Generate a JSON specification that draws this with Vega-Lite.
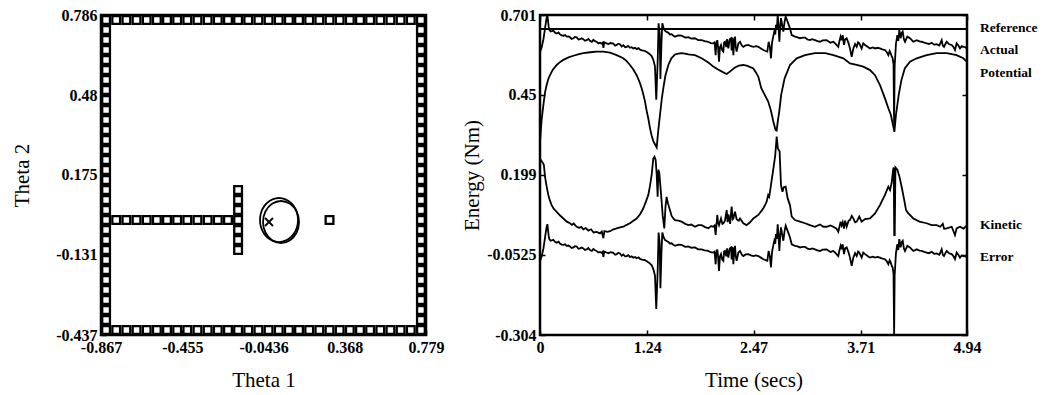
{
"$schema": "https://vega.github.io/schema/vega-lite/v6.json",
"padding": {"left": 10, "top": 5, "right": 0, "bottom": 0},
"background": "white",
"config": {
 "view": {"stroke": "black", "strokeWidth": 2.5},
 "axis": {"domain": false, "grid": false, "tickColor": "black", "tickSize": -5, "tickWidth": 1.5, "labelFont": "Liberation Serif", "labelFontWeight": "bold", "labelFontSize": 16, "labelColor": "black", "labelPadding": 9, "labelFlush": false, "labelOverlap": false, "titleFont": "Liberation Serif", "titleFontSize": 21, "titleFontWeight": "normal", "titleColor": "black"},
 "concat": {"spacing": 14}
},
"datasets": {
 "cells": [
  {"t1":-0.8413,"t2":0.7669},{"t1":-0.7899,"t2":0.7669},{"t1":-0.7384,"t2":0.7669},{"t1":-0.6870,"t2":0.7669},{"t1":-0.6356,"t2":0.7669},{"t1":-0.5841,"t2":0.7669},{"t1":-0.5327,"t2":0.7669},{"t1":-0.4812,"t2":0.7669},{"t1":-0.4298,"t2":0.7669},{"t1":-0.3784,"t2":0.7669},{"t1":-0.3269,"t2":0.7669},{"t1":-0.2755,"t2":0.7669},{"t1":-0.2240,"t2":0.7669},{"t1":-0.1726,"t2":0.7669},{"t1":-0.1212,"t2":0.7669},{"t1":-0.0697,"t2":0.7669},{"t1":-0.0183,"t2":0.7669},{"t1":0.0332,"t2":0.7669},{"t1":0.0846,"t2":0.7669},{"t1":0.1360,"t2":0.7669},{"t1":0.1875,"t2":0.7669},{"t1":0.2389,"t2":0.7669},{"t1":0.2904,"t2":0.7669},{"t1":0.3418,"t2":0.7669},{"t1":0.3932,"t2":0.7669},{"t1":0.4447,"t2":0.7669},{"t1":0.4961,"t2":0.7669},{"t1":0.5476,"t2":0.7669},{"t1":0.5990,"t2":0.7669},{"t1":0.6504,"t2":0.7669},{"t1":0.7019,"t2":0.7669},{"t1":0.7533,"t2":0.7669},
  {"t1":-0.8413,"t2":-0.4179},{"t1":-0.7899,"t2":-0.4179},{"t1":-0.7384,"t2":-0.4179},{"t1":-0.6870,"t2":-0.4179},{"t1":-0.6356,"t2":-0.4179},{"t1":-0.5841,"t2":-0.4179},{"t1":-0.5327,"t2":-0.4179},{"t1":-0.4812,"t2":-0.4179},{"t1":-0.4298,"t2":-0.4179},{"t1":-0.3784,"t2":-0.4179},{"t1":-0.3269,"t2":-0.4179},{"t1":-0.2755,"t2":-0.4179},{"t1":-0.2240,"t2":-0.4179},{"t1":-0.1726,"t2":-0.4179},{"t1":-0.1212,"t2":-0.4179},{"t1":-0.0697,"t2":-0.4179},{"t1":-0.0183,"t2":-0.4179},{"t1":0.0332,"t2":-0.4179},{"t1":0.0846,"t2":-0.4179},{"t1":0.1360,"t2":-0.4179},{"t1":0.1875,"t2":-0.4179},{"t1":0.2389,"t2":-0.4179},{"t1":0.2904,"t2":-0.4179},{"t1":0.3418,"t2":-0.4179},{"t1":0.3932,"t2":-0.4179},{"t1":0.4447,"t2":-0.4179},{"t1":0.4961,"t2":-0.4179},{"t1":0.5476,"t2":-0.4179},{"t1":0.5990,"t2":-0.4179},{"t1":0.6504,"t2":-0.4179},{"t1":0.7019,"t2":-0.4179},{"t1":0.7533,"t2":-0.4179},
  {"t1":-0.8413,"t2":0.7287},{"t1":-0.8413,"t2":0.6905},{"t1":-0.8413,"t2":0.6522},{"t1":-0.8413,"t2":0.6140},{"t1":-0.8413,"t2":0.5758},{"t1":-0.8413,"t2":0.5376},{"t1":-0.8413,"t2":0.4994},{"t1":-0.8413,"t2":0.4611},{"t1":-0.8413,"t2":0.4229},{"t1":-0.8413,"t2":0.3847},{"t1":-0.8413,"t2":0.3465},{"t1":-0.8413,"t2":0.3083},{"t1":-0.8413,"t2":0.2700},{"t1":-0.8413,"t2":0.2318},{"t1":-0.8413,"t2":0.1936},{"t1":-0.8413,"t2":0.1554},{"t1":-0.8413,"t2":0.1172},{"t1":-0.8413,"t2":0.0789},{"t1":-0.8413,"t2":0.0407},{"t1":-0.8413,"t2":0.0025},{"t1":-0.8413,"t2":-0.0357},{"t1":-0.8413,"t2":-0.0739},{"t1":-0.8413,"t2":-0.1121},{"t1":-0.8413,"t2":-0.1504},{"t1":-0.8413,"t2":-0.1886},{"t1":-0.8413,"t2":-0.2268},{"t1":-0.8413,"t2":-0.2650},{"t1":-0.8413,"t2":-0.3032},{"t1":-0.8413,"t2":-0.3415},{"t1":-0.8413,"t2":-0.3797},
  {"t1":0.7533,"t2":0.7287},{"t1":0.7533,"t2":0.6905},{"t1":0.7533,"t2":0.6522},{"t1":0.7533,"t2":0.6140},{"t1":0.7533,"t2":0.5758},{"t1":0.7533,"t2":0.5376},{"t1":0.7533,"t2":0.4994},{"t1":0.7533,"t2":0.4611},{"t1":0.7533,"t2":0.4229},{"t1":0.7533,"t2":0.3847},{"t1":0.7533,"t2":0.3465},{"t1":0.7533,"t2":0.3083},{"t1":0.7533,"t2":0.2700},{"t1":0.7533,"t2":0.2318},{"t1":0.7533,"t2":0.1936},{"t1":0.7533,"t2":0.1554},{"t1":0.7533,"t2":0.1172},{"t1":0.7533,"t2":0.0789},{"t1":0.7533,"t2":0.0407},{"t1":0.7533,"t2":0.0025},{"t1":0.7533,"t2":-0.0357},{"t1":0.7533,"t2":-0.0739},{"t1":0.7533,"t2":-0.1121},{"t1":0.7533,"t2":-0.1504},{"t1":0.7533,"t2":-0.1886},{"t1":0.7533,"t2":-0.2268},{"t1":0.7533,"t2":-0.2650},{"t1":0.7533,"t2":-0.3032},{"t1":0.7533,"t2":-0.3415},{"t1":0.7533,"t2":-0.3797},
  {"t1":-0.7899,"t2":0.0025},{"t1":-0.7384,"t2":0.0025},{"t1":-0.6870,"t2":0.0025},{"t1":-0.6356,"t2":0.0025},{"t1":-0.5841,"t2":0.0025},{"t1":-0.5327,"t2":0.0025},{"t1":-0.4812,"t2":0.0025},{"t1":-0.4298,"t2":0.0025},{"t1":-0.3784,"t2":0.0025},{"t1":-0.3269,"t2":0.0025},{"t1":-0.2755,"t2":0.0025},{"t1":-0.2240,"t2":0.0025},
  {"t1":-0.1726,"t2":0.1172},{"t1":-0.1726,"t2":0.0789},{"t1":-0.1726,"t2":0.0407},{"t1":-0.1726,"t2":0.0025},{"t1":-0.1726,"t2":-0.0357},{"t1":-0.1726,"t2":-0.0739},{"t1":-0.1726,"t2":-0.1121},
  {"t1":0.2904,"t2":0.0025}
 ],
 "path": [
  {"k":1,"i":0,"t1":0.1308,"t2":0.0025},{"k":1,"i":1,"t1":0.1252,"t2":0.0312},{"k":1,"i":2,"t1":0.1085,"t2":0.0564},{"k":1,"i":3,"t1":0.0827,"t2":0.0755},{"k":1,"i":4,"t1":0.0512,"t2":0.0854},{"k":1,"i":5,"t1":0.0178,"t2":0.0854},{"k":1,"i":6,"t1":-0.0136,"t2":0.0755},{"k":1,"i":7,"t1":-0.0394,"t2":0.0564},{"k":1,"i":8,"t1":-0.0561,"t2":0.0312},{"k":1,"i":9,"t1":-0.0617,"t2":0.0025},{"k":1,"i":10,"t1":-0.0561,"t2":-0.0262},{"k":1,"i":11,"t1":-0.0394,"t2":-0.0514},{"k":1,"i":12,"t1":-0.0136,"t2":-0.0705},{"k":1,"i":13,"t1":0.0178,"t2":-0.0804},{"k":1,"i":14,"t1":0.0512,"t2":-0.0804},{"k":1,"i":15,"t1":0.0827,"t2":-0.0705},{"k":1,"i":16,"t1":0.1085,"t2":-0.0514},{"k":1,"i":17,"t1":0.1252,"t2":-0.0262},
  {"k":2,"i":0,"t1":0.1359,"t2":-0.0051},{"k":2,"i":1,"t1":0.1237,"t2":0.0350},{"k":2,"i":2,"t1":0.0903,"t2":0.0644},{"k":2,"i":3,"t1":0.0447,"t2":0.0752},{"k":2,"i":4,"t1":-0.0009,"t2":0.0644},{"k":2,"i":5,"t1":-0.0343,"t2":0.0350},{"k":2,"i":6,"t1":-0.0465,"t2":-0.0051},{"k":2,"i":7,"t1":-0.0343,"t2":-0.0453},{"k":2,"i":8,"t1":-0.0009,"t2":-0.0746},{"k":2,"i":9,"t1":0.0447,"t2":-0.0854},{"k":2,"i":10,"t1":0.0903,"t2":-0.0746},{"k":2,"i":11,"t1":0.1237,"t2":-0.0453}
 ],
 "goal": [{"t1":-0.0161,"t2":-0.0051}],
 "labels": [
  {"t":4.94,"e":0.659,"label":"Reference"},{"t":4.94,"e":0.591,"label":"Actual"},{"t":4.94,"e":0.519,"label":"Potential"},{"t":4.94,"e":0.041,"label":"Kinetic"},{"t":4.94,"e":-0.059,"label":"Error"}
 ],
 "energy": [
  {"s":"R","t":0,"e":0.657},{"s":"R","t":4.94,"e":0.657},
  {"s":"A","t":0.000,"e":0.585},{"s":"A","t":0.020,"e":0.600},{"s":"A","t":0.040,"e":0.625},{"s":"A","t":0.058,"e":0.659},{"s":"A","t":0.075,"e":0.690},{"s":"A","t":0.085,"e":0.701},{"s":"A","t":0.100,"e":0.665},{"s":"A","t":0.108,"e":0.654},{"s":"A","t":0.123,"e":0.649},{"s":"A","t":0.154,"e":0.652},{"s":"A","t":0.175,"e":0.645},{"s":"A","t":0.193,"e":0.643},{"s":"A","t":0.215,"e":0.646},{"s":"A","t":0.231,"e":0.640},{"s":"A","t":0.250,"e":0.637},{"s":"A","t":0.270,"e":0.636},{"s":"A","t":0.290,"e":0.638},{"s":"A","t":0.309,"e":0.633},{"s":"A","t":0.330,"e":0.634},{"s":"A","t":0.347,"e":0.631},{"s":"A","t":0.365,"e":0.626},{"s":"A","t":0.386,"e":0.628},{"s":"A","t":0.405,"e":0.632},{"s":"A","t":0.424,"e":0.631},{"s":"A","t":0.445,"e":0.624},{"s":"A","t":0.463,"e":0.625},{"s":"A","t":0.482,"e":0.628},{"s":"A","t":0.501,"e":0.625},{"s":"A","t":0.520,"e":0.620},{"s":"A","t":0.540,"e":0.622},{"s":"A","t":0.560,"e":0.626},{"s":"A","t":0.578,"e":0.620},{"s":"A","t":0.600,"e":0.617},{"s":"A","t":0.617,"e":0.623},{"s":"A","t":0.636,"e":0.619},{"s":"A","t":0.655,"e":0.617},{"s":"A","t":0.675,"e":0.612},{"s":"A","t":0.694,"e":0.614},{"s":"A","t":0.715,"e":0.611},{"s":"A","t":0.725,"e":0.614},{"s":"A","t":0.733,"e":0.598},{"s":"A","t":0.744,"e":0.615},{"s":"A","t":0.770,"e":0.612},{"s":"A","t":0.791,"e":0.610},{"s":"A","t":0.815,"e":0.613},{"s":"A","t":0.848,"e":0.611},{"s":"A","t":0.870,"e":0.605},{"s":"A","t":0.887,"e":0.607},{"s":"A","t":0.905,"e":0.611},{"s":"A","t":0.925,"e":0.609},{"s":"A","t":0.945,"e":0.602},{"s":"A","t":0.964,"e":0.606},{"s":"A","t":0.985,"e":0.600},{"s":"A","t":1.003,"e":0.601},{"s":"A","t":1.020,"e":0.604},{"s":"A","t":1.041,"e":0.598},{"s":"A","t":1.060,"e":0.600},{"s":"A","t":1.080,"e":0.596},{"s":"A","t":1.100,"e":0.598},{"s":"A","t":1.118,"e":0.594},{"s":"A","t":1.140,"e":0.597},{"s":"A","t":1.157,"e":0.592},{"s":"A","t":1.180,"e":0.590},{"s":"A","t":1.215,"e":0.588},{"s":"A","t":1.240,"e":0.584},{"s":"A","t":1.270,"e":0.578},{"s":"A","t":1.292,"e":0.572},{"s":"A","t":1.311,"e":0.560},{"s":"A","t":1.330,"e":0.540},{"s":"A","t":1.345,"e":0.435},{"s":"A","t":1.362,"e":0.560},{"s":"A","t":1.372,"e":0.675},{"s":"A","t":1.385,"e":0.640},{"s":"A","t":1.393,"e":0.500},{"s":"A","t":1.405,"e":0.610},{"s":"A","t":1.415,"e":0.675},{"s":"A","t":1.430,"e":0.660},{"s":"A","t":1.445,"e":0.652},{"s":"A","t":1.465,"e":0.648},{"s":"A","t":1.485,"e":0.645},{"s":"A","t":1.504,"e":0.640},{"s":"A","t":1.523,"e":0.641},{"s":"A","t":1.543,"e":0.636},{"s":"A","t":1.562,"e":0.633},{"s":"A","t":1.600,"e":0.637},{"s":"A","t":1.639,"e":0.636},{"s":"A","t":1.680,"e":0.630},{"s":"A","t":1.716,"e":0.631},{"s":"A","t":1.750,"e":0.627},{"s":"A","t":1.793,"e":0.628},{"s":"A","t":1.830,"e":0.622},{"s":"A","t":1.870,"e":0.622},{"s":"A","t":1.905,"e":0.619},{"s":"A","t":1.947,"e":0.617},{"s":"A","t":1.975,"e":0.613},{"s":"A","t":2.005,"e":0.612},{"s":"A","t":2.020,"e":0.615},{"s":"A","t":2.032,"e":0.575},{"s":"A","t":2.040,"e":0.610},{"s":"A","t":2.051,"e":0.622},{"s":"A","t":2.060,"e":0.600},{"s":"A","t":2.071,"e":0.554},{"s":"A","t":2.082,"e":0.600},{"s":"A","t":2.094,"e":0.607},{"s":"A","t":2.108,"e":0.590},{"s":"A","t":2.121,"e":0.586},{"s":"A","t":2.130,"e":0.615},{"s":"A","t":2.140,"e":0.617},{"s":"A","t":2.155,"e":0.600},{"s":"A","t":2.165,"e":0.625},{"s":"A","t":2.179,"e":0.596},{"s":"A","t":2.195,"e":0.625},{"s":"A","t":2.210,"e":0.628},{"s":"A","t":2.217,"e":0.590},{"s":"A","t":2.227,"e":0.630},{"s":"A","t":2.237,"e":0.575},{"s":"A","t":2.247,"e":0.620},{"s":"A","t":2.256,"e":0.633},{"s":"A","t":2.265,"e":0.600},{"s":"A","t":2.275,"e":0.586},{"s":"A","t":2.295,"e":0.612},{"s":"A","t":2.314,"e":0.617},{"s":"A","t":2.335,"e":0.605},{"s":"A","t":2.352,"e":0.601},{"s":"A","t":2.380,"e":0.606},{"s":"A","t":2.410,"e":0.607},{"s":"A","t":2.440,"e":0.603},{"s":"A","t":2.468,"e":0.601},{"s":"A","t":2.500,"e":0.603},{"s":"A","t":2.526,"e":0.601},{"s":"A","t":2.555,"e":0.596},{"s":"A","t":2.584,"e":0.591},{"s":"A","t":2.610,"e":0.588},{"s":"A","t":2.630,"e":0.586},{"s":"A","t":2.645,"e":0.617},{"s":"A","t":2.660,"e":0.600},{"s":"A","t":2.672,"e":0.565},{"s":"A","t":2.685,"e":0.615},{"s":"A","t":2.698,"e":0.633},{"s":"A","t":2.711,"e":0.649},{"s":"A","t":2.722,"e":0.640},{"s":"A","t":2.730,"e":0.670},{"s":"A","t":2.740,"e":0.655},{"s":"A","t":2.750,"e":0.701},{"s":"A","t":2.760,"e":0.665},{"s":"A","t":2.769,"e":0.617},{"s":"A","t":2.778,"e":0.660},{"s":"A","t":2.788,"e":0.691},{"s":"A","t":2.800,"e":0.672},{"s":"A","t":2.815,"e":0.649},{"s":"A","t":2.830,"e":0.680},{"s":"A","t":2.842,"e":0.696},{"s":"A","t":2.865,"e":0.680},{"s":"A","t":2.892,"e":0.659},{"s":"A","t":2.912,"e":0.638},{"s":"A","t":2.950,"e":0.633},{"s":"A","t":2.980,"e":0.631},{"s":"A","t":3.008,"e":0.628},{"s":"A","t":3.040,"e":0.630},{"s":"A","t":3.066,"e":0.630},{"s":"A","t":3.095,"e":0.624},{"s":"A","t":3.123,"e":0.622},{"s":"A","t":3.150,"e":0.625},{"s":"A","t":3.181,"e":0.622},{"s":"A","t":3.210,"e":0.619},{"s":"A","t":3.239,"e":0.617},{"s":"A","t":3.270,"e":0.621},{"s":"A","t":3.316,"e":0.622},{"s":"A","t":3.360,"e":0.614},{"s":"A","t":3.394,"e":0.617},{"s":"A","t":3.420,"e":0.610},{"s":"A","t":3.451,"e":0.601},{"s":"A","t":3.465,"e":0.620},{"s":"A","t":3.478,"e":0.633},{"s":"A","t":3.490,"e":0.622},{"s":"A","t":3.502,"e":0.638},{"s":"A","t":3.517,"e":0.607},{"s":"A","t":3.530,"e":0.625},{"s":"A","t":3.548,"e":0.628},{"s":"A","t":3.570,"e":0.612},{"s":"A","t":3.586,"e":0.596},{"s":"A","t":3.606,"e":0.570},{"s":"A","t":3.625,"e":0.596},{"s":"A","t":3.645,"e":0.610},{"s":"A","t":3.664,"e":0.601},{"s":"A","t":3.680,"e":0.615},{"s":"A","t":3.694,"e":0.612},{"s":"A","t":3.721,"e":0.596},{"s":"A","t":3.740,"e":0.612},{"s":"A","t":3.760,"e":0.607},{"s":"A","t":3.790,"e":0.601},{"s":"A","t":3.818,"e":0.596},{"s":"A","t":3.850,"e":0.599},{"s":"A","t":3.876,"e":0.596},{"s":"A","t":3.905,"e":0.598},{"s":"A","t":3.933,"e":0.596},{"s":"A","t":3.960,"e":0.593},{"s":"A","t":3.991,"e":0.591},{"s":"A","t":4.010,"e":0.585},{"s":"A","t":4.030,"e":0.575},{"s":"A","t":4.045,"e":0.588},{"s":"A","t":4.057,"e":0.581},{"s":"A","t":4.070,"e":0.570},{"s":"A","t":4.080,"e":0.565},{"s":"A","t":4.090,"e":0.545},{"s":"A","t":4.097,"e":0.355},{"s":"A","t":4.103,"e":0.540},{"s":"A","t":4.118,"e":0.610},{"s":"A","t":4.134,"e":0.638},{"s":"A","t":4.145,"e":0.620},{"s":"A","t":4.157,"e":0.654},{"s":"A","t":4.172,"e":0.628},{"s":"A","t":4.185,"e":0.645},{"s":"A","t":4.196,"e":0.649},{"s":"A","t":4.210,"e":0.625},{"s":"A","t":4.223,"e":0.617},{"s":"A","t":4.250,"e":0.633},{"s":"A","t":4.280,"e":0.628},{"s":"A","t":4.319,"e":0.617},{"s":"A","t":4.358,"e":0.622},{"s":"A","t":4.390,"e":0.618},{"s":"A","t":4.415,"e":0.617},{"s":"A","t":4.445,"e":0.614},{"s":"A","t":4.473,"e":0.612},{"s":"A","t":4.500,"e":0.610},{"s":"A","t":4.531,"e":0.614},{"s":"A","t":4.560,"e":0.608},{"s":"A","t":4.589,"e":0.609},{"s":"A","t":4.620,"e":0.605},{"s":"A","t":4.647,"e":0.622},{"s":"A","t":4.660,"e":0.605},{"s":"A","t":4.674,"e":0.601},{"s":"A","t":4.690,"e":0.610},{"s":"A","t":4.705,"e":0.617},{"s":"A","t":4.735,"e":0.609},{"s":"A","t":4.763,"e":0.607},{"s":"A","t":4.785,"e":0.600},{"s":"A","t":4.801,"e":0.591},{"s":"A","t":4.820,"e":0.612},{"s":"A","t":4.840,"e":0.605},{"s":"A","t":4.859,"e":0.596},{"s":"A","t":4.880,"e":0.603},{"s":"A","t":4.897,"e":0.601},{"s":"A","t":4.920,"e":0.600},{"s":"A","t":4.940,"e":0.596},
  {"s":"E","t":0.000,"e":-0.072},{"s":"E","t":0.020,"e":-0.057},{"s":"E","t":0.040,"e":-0.032},{"s":"E","t":0.058,"e":0.002},{"s":"E","t":0.075,"e":0.033},{"s":"E","t":0.085,"e":0.044},{"s":"E","t":0.100,"e":0.008},{"s":"E","t":0.108,"e":-0.003},{"s":"E","t":0.123,"e":-0.008},{"s":"E","t":0.154,"e":-0.005},{"s":"E","t":0.175,"e":-0.012},{"s":"E","t":0.193,"e":-0.014},{"s":"E","t":0.215,"e":-0.011},{"s":"E","t":0.231,"e":-0.017},{"s":"E","t":0.250,"e":-0.020},{"s":"E","t":0.270,"e":-0.021},{"s":"E","t":0.290,"e":-0.019},{"s":"E","t":0.309,"e":-0.024},{"s":"E","t":0.330,"e":-0.023},{"s":"E","t":0.347,"e":-0.026},{"s":"E","t":0.365,"e":-0.031},{"s":"E","t":0.386,"e":-0.029},{"s":"E","t":0.405,"e":-0.025},{"s":"E","t":0.424,"e":-0.026},{"s":"E","t":0.445,"e":-0.033},{"s":"E","t":0.463,"e":-0.032},{"s":"E","t":0.482,"e":-0.029},{"s":"E","t":0.501,"e":-0.032},{"s":"E","t":0.520,"e":-0.037},{"s":"E","t":0.540,"e":-0.035},{"s":"E","t":0.560,"e":-0.031},{"s":"E","t":0.578,"e":-0.037},{"s":"E","t":0.600,"e":-0.040},{"s":"E","t":0.617,"e":-0.034},{"s":"E","t":0.636,"e":-0.038},{"s":"E","t":0.655,"e":-0.040},{"s":"E","t":0.675,"e":-0.045},{"s":"E","t":0.694,"e":-0.043},{"s":"E","t":0.715,"e":-0.046},{"s":"E","t":0.725,"e":-0.043},{"s":"E","t":0.733,"e":-0.059},{"s":"E","t":0.744,"e":-0.042},{"s":"E","t":0.770,"e":-0.045},{"s":"E","t":0.791,"e":-0.047},{"s":"E","t":0.815,"e":-0.044},{"s":"E","t":0.848,"e":-0.046},{"s":"E","t":0.870,"e":-0.052},{"s":"E","t":0.887,"e":-0.050},{"s":"E","t":0.905,"e":-0.046},{"s":"E","t":0.925,"e":-0.048},{"s":"E","t":0.945,"e":-0.055},{"s":"E","t":0.964,"e":-0.051},{"s":"E","t":0.985,"e":-0.057},{"s":"E","t":1.003,"e":-0.056},{"s":"E","t":1.020,"e":-0.053},{"s":"E","t":1.041,"e":-0.059},{"s":"E","t":1.060,"e":-0.057},{"s":"E","t":1.080,"e":-0.061},{"s":"E","t":1.100,"e":-0.059},{"s":"E","t":1.118,"e":-0.063},{"s":"E","t":1.140,"e":-0.060},{"s":"E","t":1.157,"e":-0.065},{"s":"E","t":1.180,"e":-0.067},{"s":"E","t":1.215,"e":-0.069},{"s":"E","t":1.240,"e":-0.073},{"s":"E","t":1.270,"e":-0.079},{"s":"E","t":1.292,"e":-0.085},{"s":"E","t":1.311,"e":-0.097},{"s":"E","t":1.330,"e":-0.117},{"s":"E","t":1.345,"e":-0.222},{"s":"E","t":1.362,"e":-0.097},{"s":"E","t":1.372,"e":0.018},{"s":"E","t":1.385,"e":-0.017},{"s":"E","t":1.393,"e":-0.157},{"s":"E","t":1.405,"e":-0.047},{"s":"E","t":1.415,"e":0.018},{"s":"E","t":1.430,"e":0.003},{"s":"E","t":1.445,"e":-0.005},{"s":"E","t":1.465,"e":-0.009},{"s":"E","t":1.485,"e":-0.012},{"s":"E","t":1.504,"e":-0.017},{"s":"E","t":1.523,"e":-0.016},{"s":"E","t":1.543,"e":-0.021},{"s":"E","t":1.562,"e":-0.024},{"s":"E","t":1.600,"e":-0.020},{"s":"E","t":1.639,"e":-0.021},{"s":"E","t":1.680,"e":-0.027},{"s":"E","t":1.716,"e":-0.026},{"s":"E","t":1.750,"e":-0.030},{"s":"E","t":1.793,"e":-0.029},{"s":"E","t":1.830,"e":-0.035},{"s":"E","t":1.870,"e":-0.035},{"s":"E","t":1.905,"e":-0.038},{"s":"E","t":1.947,"e":-0.040},{"s":"E","t":1.975,"e":-0.044},{"s":"E","t":2.005,"e":-0.045},{"s":"E","t":2.020,"e":-0.042},{"s":"E","t":2.032,"e":-0.082},{"s":"E","t":2.040,"e":-0.047},{"s":"E","t":2.051,"e":-0.035},{"s":"E","t":2.060,"e":-0.057},{"s":"E","t":2.071,"e":-0.103},{"s":"E","t":2.082,"e":-0.057},{"s":"E","t":2.094,"e":-0.050},{"s":"E","t":2.108,"e":-0.067},{"s":"E","t":2.121,"e":-0.071},{"s":"E","t":2.130,"e":-0.042},{"s":"E","t":2.140,"e":-0.040},{"s":"E","t":2.155,"e":-0.057},{"s":"E","t":2.165,"e":-0.032},{"s":"E","t":2.179,"e":-0.061},{"s":"E","t":2.195,"e":-0.032},{"s":"E","t":2.210,"e":-0.029},{"s":"E","t":2.217,"e":-0.067},{"s":"E","t":2.227,"e":-0.027},{"s":"E","t":2.237,"e":-0.082},{"s":"E","t":2.247,"e":-0.037},{"s":"E","t":2.256,"e":-0.024},{"s":"E","t":2.265,"e":-0.057},{"s":"E","t":2.275,"e":-0.071},{"s":"E","t":2.295,"e":-0.045},{"s":"E","t":2.314,"e":-0.040},{"s":"E","t":2.335,"e":-0.052},{"s":"E","t":2.352,"e":-0.056},{"s":"E","t":2.380,"e":-0.051},{"s":"E","t":2.410,"e":-0.050},{"s":"E","t":2.440,"e":-0.054},{"s":"E","t":2.468,"e":-0.056},{"s":"E","t":2.500,"e":-0.054},{"s":"E","t":2.526,"e":-0.056},{"s":"E","t":2.555,"e":-0.061},{"s":"E","t":2.584,"e":-0.066},{"s":"E","t":2.610,"e":-0.069},{"s":"E","t":2.630,"e":-0.071},{"s":"E","t":2.645,"e":-0.040},{"s":"E","t":2.660,"e":-0.057},{"s":"E","t":2.672,"e":-0.092},{"s":"E","t":2.685,"e":-0.042},{"s":"E","t":2.698,"e":-0.024},{"s":"E","t":2.711,"e":-0.008},{"s":"E","t":2.722,"e":-0.017},{"s":"E","t":2.730,"e":0.013},{"s":"E","t":2.740,"e":-0.002},{"s":"E","t":2.750,"e":0.044},{"s":"E","t":2.760,"e":0.008},{"s":"E","t":2.769,"e":-0.040},{"s":"E","t":2.778,"e":0.003},{"s":"E","t":2.788,"e":0.034},{"s":"E","t":2.800,"e":0.015},{"s":"E","t":2.815,"e":-0.008},{"s":"E","t":2.830,"e":0.023},{"s":"E","t":2.842,"e":0.039},{"s":"E","t":2.865,"e":0.023},{"s":"E","t":2.892,"e":0.002},{"s":"E","t":2.912,"e":-0.019},{"s":"E","t":2.950,"e":-0.024},{"s":"E","t":2.980,"e":-0.026},{"s":"E","t":3.008,"e":-0.029},{"s":"E","t":3.040,"e":-0.027},{"s":"E","t":3.066,"e":-0.027},{"s":"E","t":3.095,"e":-0.033},{"s":"E","t":3.123,"e":-0.035},{"s":"E","t":3.150,"e":-0.032},{"s":"E","t":3.181,"e":-0.035},{"s":"E","t":3.210,"e":-0.038},{"s":"E","t":3.239,"e":-0.040},{"s":"E","t":3.270,"e":-0.036},{"s":"E","t":3.316,"e":-0.035},{"s":"E","t":3.360,"e":-0.043},{"s":"E","t":3.394,"e":-0.040},{"s":"E","t":3.420,"e":-0.047},{"s":"E","t":3.451,"e":-0.056},{"s":"E","t":3.465,"e":-0.037},{"s":"E","t":3.478,"e":-0.024},{"s":"E","t":3.490,"e":-0.035},{"s":"E","t":3.502,"e":-0.019},{"s":"E","t":3.517,"e":-0.050},{"s":"E","t":3.530,"e":-0.032},{"s":"E","t":3.548,"e":-0.029},{"s":"E","t":3.570,"e":-0.045},{"s":"E","t":3.586,"e":-0.061},{"s":"E","t":3.606,"e":-0.087},{"s":"E","t":3.625,"e":-0.061},{"s":"E","t":3.645,"e":-0.047},{"s":"E","t":3.664,"e":-0.056},{"s":"E","t":3.680,"e":-0.042},{"s":"E","t":3.694,"e":-0.045},{"s":"E","t":3.721,"e":-0.061},{"s":"E","t":3.740,"e":-0.045},{"s":"E","t":3.760,"e":-0.050},{"s":"E","t":3.790,"e":-0.056},{"s":"E","t":3.818,"e":-0.061},{"s":"E","t":3.850,"e":-0.058},{"s":"E","t":3.876,"e":-0.061},{"s":"E","t":3.905,"e":-0.059},{"s":"E","t":3.933,"e":-0.061},{"s":"E","t":3.960,"e":-0.064},{"s":"E","t":3.991,"e":-0.066},{"s":"E","t":4.010,"e":-0.072},{"s":"E","t":4.030,"e":-0.082},{"s":"E","t":4.045,"e":-0.069},{"s":"E","t":4.057,"e":-0.076},{"s":"E","t":4.070,"e":-0.087},{"s":"E","t":4.080,"e":-0.092},{"s":"E","t":4.090,"e":-0.112},{"s":"E","t":4.097,"e":-0.302},{"s":"E","t":4.103,"e":-0.117},{"s":"E","t":4.118,"e":-0.047},{"s":"E","t":4.134,"e":-0.019},{"s":"E","t":4.145,"e":-0.037},{"s":"E","t":4.157,"e":-0.003},{"s":"E","t":4.172,"e":-0.029},{"s":"E","t":4.185,"e":-0.012},{"s":"E","t":4.196,"e":-0.008},{"s":"E","t":4.210,"e":-0.032},{"s":"E","t":4.223,"e":-0.040},{"s":"E","t":4.250,"e":-0.024},{"s":"E","t":4.280,"e":-0.029},{"s":"E","t":4.319,"e":-0.040},{"s":"E","t":4.358,"e":-0.035},{"s":"E","t":4.390,"e":-0.039},{"s":"E","t":4.415,"e":-0.040},{"s":"E","t":4.445,"e":-0.043},{"s":"E","t":4.473,"e":-0.045},{"s":"E","t":4.500,"e":-0.047},{"s":"E","t":4.531,"e":-0.043},{"s":"E","t":4.560,"e":-0.049},{"s":"E","t":4.589,"e":-0.048},{"s":"E","t":4.620,"e":-0.052},{"s":"E","t":4.647,"e":-0.035},{"s":"E","t":4.660,"e":-0.052},{"s":"E","t":4.674,"e":-0.056},{"s":"E","t":4.690,"e":-0.047},{"s":"E","t":4.705,"e":-0.040},{"s":"E","t":4.735,"e":-0.048},{"s":"E","t":4.763,"e":-0.050},{"s":"E","t":4.785,"e":-0.057},{"s":"E","t":4.801,"e":-0.066},{"s":"E","t":4.820,"e":-0.045},{"s":"E","t":4.840,"e":-0.052},{"s":"E","t":4.859,"e":-0.061},{"s":"E","t":4.880,"e":-0.054},{"s":"E","t":4.897,"e":-0.056},{"s":"E","t":4.920,"e":-0.057},{"s":"E","t":4.940,"e":-0.061},
  {"s":"P","t":0.000,"e":0.300},{"s":"P","t":0.008,"e":0.334},{"s":"P","t":0.020,"e":0.375},{"s":"P","t":0.039,"e":0.418},{"s":"P","t":0.058,"e":0.458},{"s":"P","t":0.077,"e":0.481},{"s":"P","t":0.096,"e":0.500},{"s":"P","t":0.116,"e":0.512},{"s":"P","t":0.150,"e":0.530},{"s":"P","t":0.193,"e":0.544},{"s":"P","t":0.230,"e":0.553},{"s":"P","t":0.270,"e":0.560},{"s":"P","t":0.330,"e":0.568},{"s":"P","t":0.386,"e":0.573},{"s":"P","t":0.450,"e":0.578},{"s":"P","t":0.501,"e":0.581},{"s":"P","t":0.580,"e":0.584},{"s":"P","t":0.655,"e":0.586},{"s":"P","t":0.733,"e":0.586},{"s":"P","t":0.810,"e":0.583},{"s":"P","t":0.887,"e":0.575},{"s":"P","t":0.964,"e":0.565},{"s":"P","t":1.000,"e":0.557},{"s":"P","t":1.041,"e":0.544},{"s":"P","t":1.080,"e":0.530},{"s":"P","t":1.118,"e":0.512},{"s":"P","t":1.150,"e":0.492},{"s":"P","t":1.176,"e":0.471},{"s":"P","t":1.195,"e":0.452},{"s":"P","t":1.215,"e":0.429},{"s":"P","t":1.234,"e":0.400},{"s":"P","t":1.253,"e":0.376},{"s":"P","t":1.273,"e":0.345},{"s":"P","t":1.292,"e":0.322},{"s":"P","t":1.311,"e":0.305},{"s":"P","t":1.330,"e":0.295},{"s":"P","t":1.350,"e":0.285},{"s":"P","t":1.369,"e":0.340},{"s":"P","t":1.388,"e":0.387},{"s":"P","t":1.410,"e":0.440},{"s":"P","t":1.427,"e":0.471},{"s":"P","t":1.450,"e":0.510},{"s":"P","t":1.485,"e":0.544},{"s":"P","t":1.520,"e":0.565},{"s":"P","t":1.562,"e":0.577},{"s":"P","t":1.600,"e":0.580},{"s":"P","t":1.639,"e":0.581},{"s":"P","t":1.678,"e":0.580},{"s":"P","t":1.716,"e":0.577},{"s":"P","t":1.793,"e":0.575},{"s":"P","t":1.870,"e":0.565},{"s":"P","t":1.947,"e":0.552},{"s":"P","t":2.005,"e":0.539},{"s":"P","t":2.060,"e":0.530},{"s":"P","t":2.100,"e":0.524},{"s":"P","t":2.140,"e":0.518},{"s":"P","t":2.160,"e":0.516},{"s":"P","t":2.200,"e":0.524},{"s":"P","t":2.256,"e":0.536},{"s":"P","t":2.300,"e":0.542},{"s":"P","t":2.352,"e":0.544},{"s":"P","t":2.400,"e":0.541},{"s":"P","t":2.468,"e":0.533},{"s":"P","t":2.500,"e":0.520},{"s":"P","t":2.526,"e":0.507},{"s":"P","t":2.560,"e":0.471},{"s":"P","t":2.600,"e":0.450},{"s":"P","t":2.640,"e":0.429},{"s":"P","t":2.672,"e":0.400},{"s":"P","t":2.700,"e":0.366},{"s":"P","t":2.725,"e":0.340},{"s":"P","t":2.738,"e":0.338},{"s":"P","t":2.750,"e":0.365},{"s":"P","t":2.769,"e":0.400},{"s":"P","t":2.790,"e":0.450},{"s":"P","t":2.830,"e":0.502},{"s":"P","t":2.892,"e":0.544},{"s":"P","t":2.970,"e":0.565},{"s":"P","t":3.066,"e":0.575},{"s":"P","t":3.181,"e":0.581},{"s":"P","t":3.300,"e":0.581},{"s":"P","t":3.394,"e":0.575},{"s":"P","t":3.510,"e":0.565},{"s":"P","t":3.586,"e":0.549},{"s":"P","t":3.664,"e":0.544},{"s":"P","t":3.740,"e":0.539},{"s":"P","t":3.818,"e":0.528},{"s":"P","t":3.876,"e":0.512},{"s":"P","t":3.933,"e":0.481},{"s":"P","t":3.991,"e":0.439},{"s":"P","t":4.030,"e":0.408},{"s":"P","t":4.060,"e":0.387},{"s":"P","t":4.080,"e":0.360},{"s":"P","t":4.100,"e":0.334},{"s":"P","t":4.118,"e":0.387},{"s":"P","t":4.150,"e":0.450},{"s":"P","t":4.180,"e":0.495},{"s":"P","t":4.220,"e":0.533},{"s":"P","t":4.280,"e":0.554},{"s":"P","t":4.358,"e":0.565},{"s":"P","t":4.473,"e":0.575},{"s":"P","t":4.589,"e":0.581},{"s":"P","t":4.705,"e":0.581},{"s":"P","t":4.820,"e":0.575},{"s":"P","t":4.897,"e":0.565},{"s":"P","t":4.940,"e":0.554},
  {"s":"K","t":0.000,"e":0.240},{"s":"K","t":0.008,"e":0.246},{"s":"K","t":0.030,"e":0.238},{"s":"K","t":0.045,"e":0.230},{"s":"K","t":0.058,"e":0.193},{"s":"K","t":0.077,"e":0.162},{"s":"K","t":0.096,"e":0.136},{"s":"K","t":0.115,"e":0.118},{"s":"K","t":0.135,"e":0.104},{"s":"K","t":0.160,"e":0.092},{"s":"K","t":0.193,"e":0.083},{"s":"K","t":0.230,"e":0.072},{"s":"K","t":0.270,"e":0.062},{"s":"K","t":0.310,"e":0.052},{"s":"K","t":0.347,"e":0.047},{"s":"K","t":0.370,"e":0.042},{"s":"K","t":0.390,"e":0.046},{"s":"K","t":0.424,"e":0.036},{"s":"K","t":0.450,"e":0.033},{"s":"K","t":0.480,"e":0.035},{"s":"K","t":0.501,"e":0.028},{"s":"K","t":0.530,"e":0.032},{"s":"K","t":0.560,"e":0.024},{"s":"K","t":0.590,"e":0.028},{"s":"K","t":0.620,"e":0.018},{"s":"K","t":0.655,"e":0.020},{"s":"K","t":0.694,"e":0.015},{"s":"K","t":0.715,"e":0.021},{"s":"K","t":0.733,"e":0.000},{"s":"K","t":0.745,"e":0.022},{"s":"K","t":0.780,"e":0.020},{"s":"K","t":0.810,"e":0.022},{"s":"K","t":0.850,"e":0.028},{"s":"K","t":0.887,"e":0.031},{"s":"K","t":0.925,"e":0.034},{"s":"K","t":0.964,"e":0.036},{"s":"K","t":1.003,"e":0.042},{"s":"K","t":1.041,"e":0.047},{"s":"K","t":1.080,"e":0.055},{"s":"K","t":1.118,"e":0.062},{"s":"K","t":1.160,"e":0.076},{"s":"K","t":1.195,"e":0.094},{"s":"K","t":1.225,"e":0.115},{"s":"K","t":1.253,"e":0.136},{"s":"K","t":1.273,"e":0.165},{"s":"K","t":1.292,"e":0.200},{"s":"K","t":1.311,"e":0.250},{"s":"K","t":1.325,"e":0.256},{"s":"K","t":1.338,"e":0.246},{"s":"K","t":1.350,"e":0.200},{"s":"K","t":1.361,"e":0.130},{"s":"K","t":1.370,"e":0.215},{"s":"K","t":1.380,"e":0.205},{"s":"K","t":1.400,"e":0.140},{"s":"K","t":1.420,"e":0.070},{"s":"K","t":1.438,"e":0.031},{"s":"K","t":1.452,"e":0.100},{"s":"K","t":1.465,"e":0.130},{"s":"K","t":1.480,"e":0.110},{"s":"K","t":1.504,"e":0.088},{"s":"K","t":1.523,"e":0.070},{"s":"K","t":1.543,"e":0.062},{"s":"K","t":1.562,"e":0.057},{"s":"K","t":1.600,"e":0.055},{"s":"K","t":1.639,"e":0.052},{"s":"K","t":1.680,"e":0.045},{"s":"K","t":1.716,"e":0.041},{"s":"K","t":1.750,"e":0.043},{"s":"K","t":1.793,"e":0.036},{"s":"K","t":1.830,"e":0.041},{"s":"K","t":1.870,"e":0.041},{"s":"K","t":1.910,"e":0.035},{"s":"K","t":1.947,"e":0.031},{"s":"K","t":1.980,"e":0.038},{"s":"K","t":2.005,"e":0.036},{"s":"K","t":2.020,"e":0.040},{"s":"K","t":2.032,"e":0.010},{"s":"K","t":2.051,"e":0.073},{"s":"K","t":2.060,"e":0.050},{"s":"K","t":2.071,"e":0.041},{"s":"K","t":2.094,"e":0.062},{"s":"K","t":2.110,"e":0.045},{"s":"K","t":2.121,"e":0.047},{"s":"K","t":2.140,"e":0.055},{"s":"K","t":2.160,"e":0.088},{"s":"K","t":2.170,"e":0.050},{"s":"K","t":2.179,"e":0.075},{"s":"K","t":2.200,"e":0.045},{"s":"K","t":2.210,"e":0.080},{"s":"K","t":2.217,"e":0.099},{"s":"K","t":2.230,"e":0.060},{"s":"K","t":2.237,"e":0.062},{"s":"K","t":2.256,"e":0.083},{"s":"K","t":2.275,"e":0.060},{"s":"K","t":2.300,"e":0.055},{"s":"K","t":2.314,"e":0.062},{"s":"K","t":2.352,"e":0.047},{"s":"K","t":2.390,"e":0.041},{"s":"K","t":2.430,"e":0.050},{"s":"K","t":2.468,"e":0.062},{"s":"K","t":2.500,"e":0.068},{"s":"K","t":2.526,"e":0.073},{"s":"K","t":2.560,"e":0.085},{"s":"K","t":2.584,"e":0.094},{"s":"K","t":2.610,"e":0.108},{"s":"K","t":2.622,"e":0.115},{"s":"K","t":2.640,"e":0.136},{"s":"K","t":2.652,"e":0.130},{"s":"K","t":2.672,"e":0.167},{"s":"K","t":2.695,"e":0.209},{"s":"K","t":2.711,"e":0.240},{"s":"K","t":2.722,"e":0.261},{"s":"K","t":2.738,"e":0.319},{"s":"K","t":2.752,"e":0.282},{"s":"K","t":2.772,"e":0.272},{"s":"K","t":2.788,"e":0.167},{"s":"K","t":2.805,"e":0.146},{"s":"K","t":2.820,"e":0.160},{"s":"K","t":2.842,"e":0.162},{"s":"K","t":2.865,"e":0.125},{"s":"K","t":2.892,"e":0.104},{"s":"K","t":2.912,"e":0.068},{"s":"K","t":2.950,"e":0.057},{"s":"K","t":3.008,"e":0.052},{"s":"K","t":3.066,"e":0.047},{"s":"K","t":3.123,"e":0.041},{"s":"K","t":3.181,"e":0.036},{"s":"K","t":3.239,"e":0.043},{"s":"K","t":3.280,"e":0.036},{"s":"K","t":3.316,"e":0.036},{"s":"K","t":3.360,"e":0.040},{"s":"K","t":3.394,"e":0.036},{"s":"K","t":3.430,"e":0.030},{"s":"K","t":3.451,"e":0.020},{"s":"K","t":3.478,"e":0.052},{"s":"K","t":3.490,"e":0.040},{"s":"K","t":3.502,"e":0.050},{"s":"K","t":3.517,"e":0.030},{"s":"K","t":3.530,"e":0.055},{"s":"K","t":3.548,"e":0.036},{"s":"K","t":3.570,"e":0.055},{"s":"K","t":3.586,"e":0.057},{"s":"K","t":3.606,"e":0.070},{"s":"K","t":3.625,"e":0.062},{"s":"K","t":3.645,"e":0.050},{"s":"K","t":3.664,"e":0.052},{"s":"K","t":3.694,"e":0.068},{"s":"K","t":3.721,"e":0.052},{"s":"K","t":3.760,"e":0.060},{"s":"K","t":3.818,"e":0.062},{"s":"K","t":3.876,"e":0.078},{"s":"K","t":3.933,"e":0.104},{"s":"K","t":3.991,"e":0.136},{"s":"K","t":4.030,"e":0.162},{"s":"K","t":4.050,"e":0.151},{"s":"K","t":4.070,"e":0.177},{"s":"K","t":4.085,"e":0.215},{"s":"K","t":4.092,"e":0.222},{"s":"K","t":4.098,"e":0.010},{"s":"K","t":4.104,"e":0.010},{"s":"K","t":4.112,"e":0.222},{"s":"K","t":4.134,"e":0.215},{"s":"K","t":4.157,"e":0.195},{"s":"K","t":4.185,"e":0.160},{"s":"K","t":4.210,"e":0.125},{"s":"K","t":4.235,"e":0.088},{"s":"K","t":4.262,"e":0.078},{"s":"K","t":4.319,"e":0.062},{"s":"K","t":4.390,"e":0.052},{"s":"K","t":4.473,"e":0.047},{"s":"K","t":4.530,"e":0.041},{"s":"K","t":4.589,"e":0.041},{"s":"K","t":4.630,"e":0.036},{"s":"K","t":4.660,"e":0.045},{"s":"K","t":4.675,"e":0.030},{"s":"K","t":4.705,"e":0.031},{"s":"K","t":4.763,"e":0.036},{"s":"K","t":4.801,"e":0.010},{"s":"K","t":4.820,"e":0.031},{"s":"K","t":4.859,"e":0.036},{"s":"K","t":4.900,"e":0.030},{"s":"K","t":4.940,"e":0.041}
 ]
},
"hconcat": [
 {
  "width": 325, "height": 320,
  "layer": [
   {"data": {"name": "cells"},
    "mark": {"type": "point", "shape": "square", "filled": false, "stroke": "black", "strokeWidth": 2.3, "size": 60, "opacity": 1},
    "encoding": {
     "x": {"field": "t1", "type": "quantitative", "title": "Theta 1", "scale": {"domain": [-0.867, 0.779], "nice": false, "zero": false}, "axis": {"values": [-0.867, -0.455, -0.0436, 0.368, 0.779], "labelExpr": "toString(datum.value)", "titlePadding": 14}},
     "y": {"field": "t2", "type": "quantitative", "title": "Theta 2", "scale": {"domain": [-0.437, 0.786], "nice": false, "zero": false}, "axis": {"values": [0.786, 0.48, 0.175, -0.131, -0.437], "labelExpr": "toString(datum.value)", "titlePadding": 23}}
    }},
   {"data": {"name": "path"},
    "mark": {"type": "line", "interpolate": "cardinal-closed", "color": "black", "strokeWidth": 1.8},
    "encoding": {
     "x": {"field": "t1", "type": "quantitative", "title": "Theta 1"},
     "y": {"field": "t2", "type": "quantitative", "title": "Theta 2"},
     "detail": {"field": "k"},
     "order": {"field": "i"}
    }},
   {"data": {"name": "goal"},
    "mark": {"type": "point", "shape": "M-1,-1L1,1M-1,1L1,-1", "filled": false, "stroke": "black", "strokeWidth": 1.8, "size": 64, "opacity": 1},
    "encoding": {
     "x": {"field": "t1", "type": "quantitative", "title": "Theta 1"},
     "y": {"field": "t2", "type": "quantitative", "title": "Theta 2"}
    }}
  ]
 },
 {
  "width": 427, "height": 320,
  "layer": [
   {"data": {"name": "energy"},
    "mark": {"type": "line", "color": "black", "strokeWidth": 1.8},
    "encoding": {
     "x": {"field": "t", "type": "quantitative", "title": "Time (secs)", "scale": {"domain": [0, 4.94], "nice": false, "zero": false}, "axis": {"values": [0, 1.24, 2.47, 3.71, 4.94], "labelExpr": "toString(datum.value)", "titlePadding": 14}},
     "y": {"field": "e", "type": "quantitative", "title": "Energy (Nm)", "scale": {"domain": [-0.304, 0.701], "nice": false, "zero": false}, "axis": {"values": [0.701, 0.45, 0.199, -0.0525, -0.304], "labelExpr": "toString(datum.value)", "titlePadding": 4}},
     "detail": {"field": "s"}
    }},
   {"data": {"name": "labels"},
    "mark": {"type": "text", "align": "left", "baseline": "middle", "dx": 13, "font": "Liberation Serif", "fontWeight": "bold", "fontSize": 13.5, "color": "black"},
    "encoding": {
     "x": {"field": "t", "type": "quantitative", "axis": {"orient": "top", "values": [0, 1.24, 2.47, 3.71, 4.94], "labels": false, "title": null}},
     "y": {"field": "e", "type": "quantitative", "axis": {"orient": "right", "values": [0.701, 0.45, 0.199, -0.0525, -0.304], "labels": false, "title": null}},
     "text": {"field": "label"}
    }}
  ],
  "resolve": {"axis": {"x": "independent", "y": "independent"}}
 }
]
}
